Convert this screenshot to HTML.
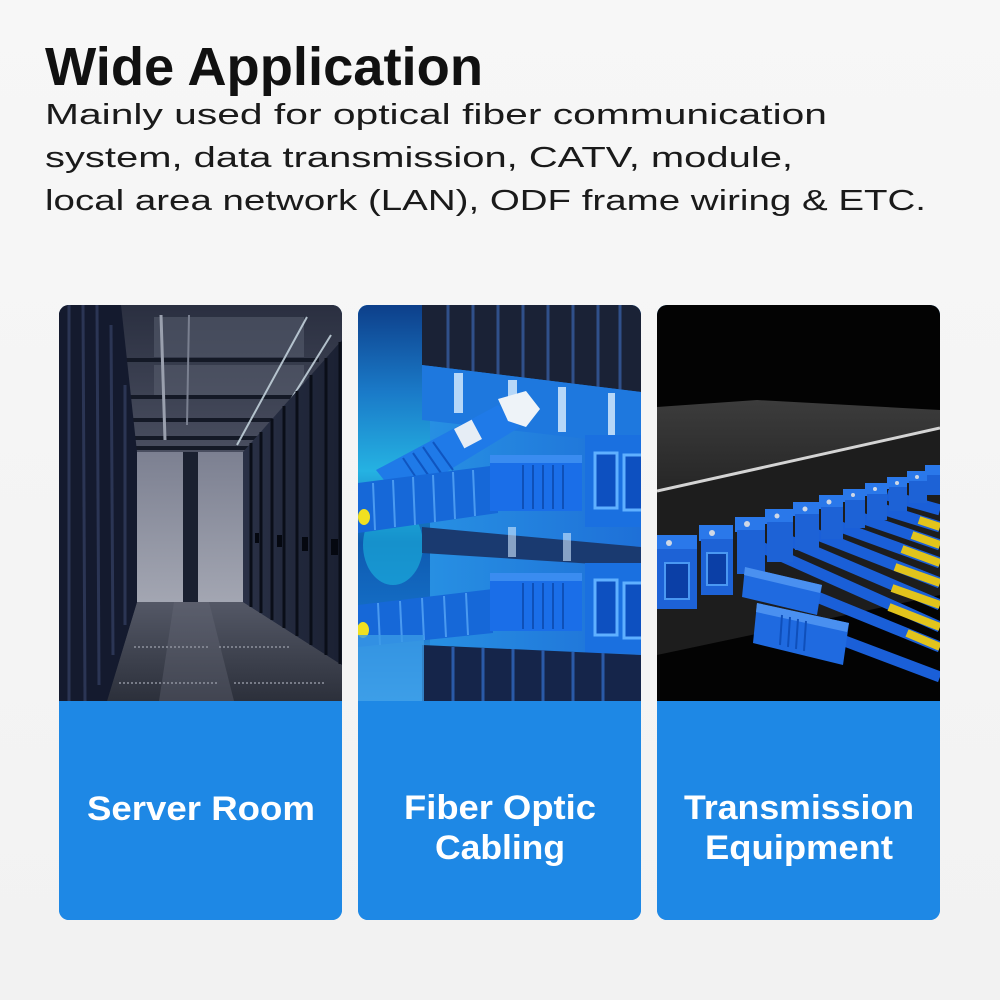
<!DOCTYPE html>
<html>
<head>
<meta charset="utf-8">
<style>
  html,body{margin:0;padding:0;background:#f4f4f4;}
  body{width:1000px;height:1000px;overflow:hidden;}
  svg{display:block;}
  text{font-family:"Liberation Sans", Arial, sans-serif;}
</style>
</head>
<body>
<svg width="1000" height="1000" viewBox="0 0 1000 1000" xmlns="http://www.w3.org/2000/svg">
  <defs>
    <linearGradient id="bg" x1="0" y1="0" x2="0" y2="1">
      <stop offset="0" stop-color="#f7f7f7"/>
      <stop offset="1" stop-color="#f2f2f2"/>
    </linearGradient>
    <clipPath id="c1"><rect x="0" y="0" width="283" height="615" rx="10"/></clipPath>
    <!-- card1 gradients -->
    <linearGradient id="ceil" x1="0" y1="0" x2="0" y2="1">
      <stop offset="0" stop-color="#2a2f40"/>
      <stop offset="1" stop-color="#4a4f60"/>
    </linearGradient>
    <linearGradient id="wall" x1="0" y1="0" x2="0" y2="1">
      <stop offset="0" stop-color="#7c8091"/>
      <stop offset="1" stop-color="#a3a6b2"/>
    </linearGradient>
    <linearGradient id="floor" x1="0" y1="0" x2="0" y2="1">
      <stop offset="0" stop-color="#545866"/>
      <stop offset="1" stop-color="#2c303b"/>
    </linearGradient>
    <linearGradient id="rrack" x1="0" y1="0" x2="1" y2="0">
      <stop offset="0" stop-color="#2a3146"/>
      <stop offset="1" stop-color="#1a2032"/>
    </linearGradient>
    <!-- card2 gradients -->
    <linearGradient id="blur" x1="0" y1="0" x2="0" y2="1">
      <stop offset="0" stop-color="#0d3f8a"/>
      <stop offset="0.22" stop-color="#1a7ac8"/>
      <stop offset="0.42" stop-color="#25b2e2"/>
      <stop offset="0.6" stop-color="#0e5ab0"/>
      <stop offset="0.8" stop-color="#1570c8"/>
      <stop offset="1" stop-color="#4ab0ee"/>
    </linearGradient>
    <linearGradient id="mid2" x1="0" y1="0" x2="1" y2="0">
      <stop offset="0" stop-color="#2a9ae6"/>
      <stop offset="1" stop-color="#1e70d8"/>
    </linearGradient>
    <!-- card3 gradients -->
    <linearGradient id="top3" x1="0" y1="0" x2="0" y2="1">
      <stop offset="0" stop-color="#3c3c3c"/>
      <stop offset="1" stop-color="#262626"/>
    </linearGradient>
  </defs>

  <rect x="0" y="0" width="1000" height="1000" fill="url(#bg)"/>

  <!-- Heading -->
  <text x="45" y="85" font-size="54" font-weight="bold" fill="#111" textLength="438" lengthAdjust="spacingAndGlyphs">Wide Application</text>
  <text x="45" y="124" font-size="29" fill="#1a1a1a" textLength="782" lengthAdjust="spacingAndGlyphs">Mainly used for optical fiber communication</text>
  <text x="45" y="167" font-size="29" fill="#1a1a1a" textLength="748" lengthAdjust="spacingAndGlyphs">system, data transmission, CATV, module,</text>
  <text x="45" y="210" font-size="29" fill="#1a1a1a" textLength="881" lengthAdjust="spacingAndGlyphs">local area network (LAN), ODF frame wiring &amp; ETC.</text>

  <!-- ========== CARD 1 : Server Room ========== -->
  <g transform="translate(59,305)">
    <g clip-path="url(#c1)">
      <rect x="0" y="0" width="283" height="615" fill="#1e88e5"/>
      <rect x="0" y="0" width="283" height="396" fill="#1a2032"/>
      <!-- ceiling -->
      <rect x="0" y="0" width="283" height="150" fill="url(#ceil)"/>
      <rect x="95" y="12" width="150" height="40" fill="#555b6c" opacity="0.6"/>
      <rect x="95" y="60" width="150" height="30" fill="#5c6272" opacity="0.5"/>
      <g stroke="#141926" stroke-width="4">
        <line x1="60" y1="55" x2="260" y2="55"/>
        <line x1="70" y1="92" x2="250" y2="92"/>
        <line x1="70" y1="115" x2="240" y2="115"/>
        <line x1="72" y1="133" x2="230" y2="133"/>
        <line x1="74" y1="143" x2="210" y2="143"/>
      </g>
      <g stroke="#c9d9e2" stroke-width="2" opacity="0.85">
        <line x1="248" y1="12" x2="178" y2="140"/>
        <line x1="272" y1="30" x2="200" y2="146"/>
        <line x1="283" y1="62" x2="215" y2="150"/>
      </g>
      <line x1="102" y1="10" x2="106" y2="135" stroke="#9aa0ae" stroke-width="3"/>
      <line x1="130" y1="10" x2="128" y2="120" stroke="#7a8090" stroke-width="2"/>
      <!-- wall -->
      <rect x="78" y="147" width="106" height="150" fill="url(#wall)"/>
      <rect x="124" y="147" width="15" height="150" fill="#1a2030"/>
      <!-- floor -->
      <polygon points="78,297 184,297 283,360 283,396 48,396" fill="url(#floor)"/>
      <polygon points="115,297 150,297 175,396 100,396" fill="#6a6e7a" opacity="0.35"/>
      <g stroke="#8a8e9a" stroke-width="2" stroke-dasharray="2,2" opacity="0.8">
        <line x1="75" y1="342" x2="150" y2="342"/>
        <line x1="160" y1="342" x2="230" y2="342"/>
        <line x1="60" y1="378" x2="160" y2="378"/>
        <line x1="175" y1="378" x2="265" y2="378"/>
      </g>
      <!-- left racks -->
      <polygon points="0,0 62,0 78,147 78,297 48,396 0,396" fill="#141a2e"/>
      <g stroke="#2b3554" stroke-width="3">
        <line x1="10" y1="0" x2="10" y2="396"/>
        <line x1="24" y1="0" x2="26" y2="396"/>
        <line x1="38" y1="0" x2="40" y2="380"/>
        <line x1="52" y1="20" x2="54" y2="350"/>
        <line x1="66" y1="80" x2="66" y2="320"/>
      </g>
      <!-- right racks -->
      <polygon points="184,147 283,35 283,360 184,297" fill="url(#rrack)"/>
      <g stroke="#0a0e18" stroke-width="3">
        <line x1="192" y1="138" x2="192" y2="302"/>
        <line x1="202" y1="127" x2="202" y2="308"/>
        <line x1="213" y1="114" x2="213" y2="315"/>
        <line x1="225" y1="101" x2="225" y2="323"/>
        <line x1="238" y1="86" x2="238" y2="331"/>
        <line x1="252" y1="70" x2="252" y2="340"/>
        <line x1="267" y1="53" x2="267" y2="350"/>
        <line x1="281" y1="37" x2="281" y2="359"/>
      </g>
      <g fill="#050810">
        <rect x="196" y="228" width="4" height="10"/>
        <rect x="218" y="230" width="5" height="12"/>
        <rect x="243" y="232" width="6" height="14"/>
        <rect x="272" y="234" width="7" height="16"/>
      </g>
      <!-- bottom blue -->
      <rect x="0" y="396" width="283" height="219" fill="#1e88e5"/>
    </g>
    <text x="142" y="820" transform="translate(0,-305)" font-size="34" font-weight="bold" fill="#fff" text-anchor="middle" textLength="228" lengthAdjust="spacingAndGlyphs">Server Room</text>
  </g>

  <!-- ========== CARD 2 : Fiber Optic Cabling ========== -->
  <g transform="translate(358,305)">
    <g clip-path="url(#c1)">
      <rect x="0" y="0" width="283" height="615" fill="#1e88e5"/>
      <rect x="0" y="0" width="283" height="396" fill="url(#mid2)"/>
      <rect x="0" y="0" width="72" height="396" fill="url(#blur)"/>
      <ellipse cx="35" cy="240" rx="30" ry="40" fill="#1ec8e8" opacity="0.5"/>
      <!-- top slats -->
      <polygon points="64,0 283,0 283,87 64,60" fill="#1a2236"/>
      <g stroke="#30508a" stroke-width="3">
        <line x1="90" y1="0" x2="90" y2="64"/>
        <line x1="115" y1="0" x2="115" y2="67"/>
        <line x1="140" y1="0" x2="140" y2="70"/>
        <line x1="165" y1="0" x2="165" y2="73"/>
        <line x1="190" y1="0" x2="190" y2="76"/>
        <line x1="215" y1="0" x2="215" y2="79"/>
        <line x1="240" y1="0" x2="240" y2="82"/>
        <line x1="262" y1="0" x2="262" y2="85"/>
      </g>
      <!-- band below slats -->
      <polygon points="64,60 283,87 283,140 64,115" fill="#1e78de"/>
      <g fill="#dcefff" opacity="0.8">
        <rect x="96" y="68" width="9" height="40"/>
        <rect x="150" y="75" width="9" height="45"/>
        <rect x="200" y="82" width="8" height="45"/>
        <rect x="250" y="88" width="7" height="42"/>
      </g>
      <!-- adapters upper right -->
      <rect x="227" y="130" width="56" height="92" fill="#1a70e0"/>
      <rect x="237" y="148" width="22" height="55" fill="#0d50c0" stroke="#5fb0ff" stroke-width="3"/>
      <rect x="266" y="150" width="22" height="55" fill="#0d50c0" stroke="#5fb0ff" stroke-width="3"/>
      <!-- middle zone -->
      <polygon points="64,222 283,242 283,262 64,248" fill="#1a3a70"/>
      <g fill="#d0e8ff" opacity="0.6">
        <rect x="150" y="222" width="8" height="30"/>
        <rect x="205" y="228" width="8" height="28"/>
      </g>
      <!-- tilted connector top -->
      <polygon points="18,165 140,100 162,122 42,195" fill="#1f7ae8"/>
      <g stroke="#0f55c0" stroke-width="2">
        <line x1="45" y1="153" x2="65" y2="183"/>
        <line x1="55" y1="148" x2="75" y2="177"/>
        <line x1="65" y1="142" x2="85" y2="171"/>
        <line x1="75" y1="137" x2="95" y2="165"/>
      </g>
      <rect x="100" y="118" width="20" height="22" fill="#e6edf5" transform="rotate(-28 110 129)"/>
      <polygon points="140,94 168,86 182,104 168,122 150,116" fill="#eef3f8"/>
      <!-- cable row 1 -->
      <polygon points="0,178 140,160 140,208 0,228" fill="#1668d8"/>
      <g stroke="#4a9af0" stroke-width="2">
        <line x1="15" y1="178" x2="17" y2="225"/>
        <line x1="35" y1="175" x2="37" y2="222"/>
        <line x1="55" y1="172" x2="57" y2="220"/>
        <line x1="75" y1="170" x2="77" y2="217"/>
        <line x1="95" y1="167" x2="97" y2="214"/>
        <line x1="115" y1="165" x2="117" y2="211"/>
      </g>
      <ellipse cx="6" cy="212" rx="6" ry="8" fill="#f0e020"/>
      <!-- horizontal connector 1 -->
      <rect x="132" y="150" width="92" height="56" fill="#1a6ee8"/>
      <rect x="132" y="150" width="92" height="8" fill="#3a8cf0"/>
      <g stroke="#0e50b8" stroke-width="2">
        <line x1="165" y1="160" x2="165" y2="204"/>
        <line x1="175" y1="160" x2="175" y2="204"/>
        <line x1="185" y1="160" x2="185" y2="204"/>
        <line x1="195" y1="160" x2="195" y2="204"/>
        <line x1="205" y1="160" x2="205" y2="204"/>
      </g>
      <!-- row 2 -->
      <polygon points="0,300 135,284 135,328 0,342" fill="#1668d8"/>
      <g stroke="#4a9af0" stroke-width="2">
        <line x1="20" y1="298" x2="22" y2="340"/>
        <line x1="42" y1="296" x2="44" y2="337"/>
        <line x1="64" y1="293" x2="66" y2="335"/>
        <line x1="86" y1="291" x2="88" y2="332"/>
        <line x1="108" y1="288" x2="110" y2="330"/>
      </g>
      <ellipse cx="5" cy="325" rx="6" ry="8" fill="#f0e020"/>
      <rect x="132" y="268" width="92" height="58" fill="#1a6ee8"/>
      <rect x="132" y="268" width="92" height="8" fill="#3a8cf0"/>
      <g stroke="#0e50b8" stroke-width="2">
        <line x1="165" y1="278" x2="165" y2="324"/>
        <line x1="175" y1="278" x2="175" y2="324"/>
        <line x1="185" y1="278" x2="185" y2="324"/>
        <line x1="195" y1="278" x2="195" y2="324"/>
        <line x1="205" y1="278" x2="205" y2="324"/>
      </g>
      <rect x="227" y="258" width="56" height="90" fill="#1a70e0"/>
      <rect x="237" y="275" width="22" height="55" fill="#0d50c0" stroke="#5fb0ff" stroke-width="3"/>
      <rect x="266" y="278" width="22" height="55" fill="#0d50c0" stroke="#5fb0ff" stroke-width="3"/>
      <!-- bottom slats -->
      <polygon points="64,340 283,350 283,396 64,396" fill="#15254a"/>
      <g stroke="#2a5aa8" stroke-width="3">
        <line x1="95" y1="342" x2="95" y2="396"/>
        <line x1="125" y1="343" x2="125" y2="396"/>
        <line x1="155" y1="344" x2="155" y2="396"/>
        <line x1="185" y1="345" x2="185" y2="396"/>
        <line x1="215" y1="347" x2="215" y2="396"/>
        <line x1="245" y1="348" x2="245" y2="396"/>
      </g>
      <rect x="0" y="330" width="66" height="66" fill="#3a9ae6" opacity="0.8"/>
      <rect x="0" y="396" width="283" height="219" fill="#1e88e5"/>
    </g>
    <text x="142" y="819" transform="translate(0,-305)" font-size="34" font-weight="bold" fill="#fff" text-anchor="middle" textLength="192" lengthAdjust="spacingAndGlyphs">Fiber Optic</text>
    <text x="142" y="859" transform="translate(0,-305)" font-size="34" font-weight="bold" fill="#fff" text-anchor="middle" textLength="130" lengthAdjust="spacingAndGlyphs">Cabling</text>
  </g>

  <!-- ========== CARD 3 : Transmission Equipment ========== -->
  <g transform="translate(657,305)">
    <g clip-path="url(#c1)">
      <rect x="0" y="0" width="283" height="615" fill="#1e88e5"/>
      <rect x="0" y="0" width="283" height="396" fill="#030303"/>
      <!-- device -->
      <polygon points="0,102 100,95 283,105 283,122 0,185" fill="url(#top3)"/>
      <polygon points="0,187 283,124 283,290 0,350" fill="#1d1d1d"/>
      <line x1="0" y1="186" x2="283" y2="123" stroke="#d4d4d4" stroke-width="3"/>
      <!-- cables -->
      <g stroke-linecap="butt">
        <g stroke="#1a5fd8" stroke-width="11">
          <line x1="230" y1="190" x2="283" y2="205"/>
          <line x1="212" y1="200" x2="283" y2="222"/>
          <line x1="190" y1="208" x2="283" y2="240"/>
          <line x1="170" y1="217" x2="283" y2="258"/>
          <line x1="148" y1="225" x2="283" y2="278"/>
          <line x1="126" y1="233" x2="283" y2="300"/>
          <line x1="104" y1="242" x2="283" y2="322"/>
          <line x1="160" y1="292" x2="283" y2="342"/>
          <line x1="185" y1="335" x2="283" y2="372"/>
        </g>
        <g stroke="#e2c41c" stroke-width="8">
          <line x1="262" y1="215" x2="283" y2="222"/>
          <line x1="255" y1="230" x2="283" y2="240"/>
          <line x1="245" y1="244" x2="283" y2="258"/>
          <line x1="238" y1="262" x2="283" y2="278"/>
          <line x1="235" y1="283" x2="283" y2="300"/>
          <line x1="232" y1="302" x2="283" y2="322"/>
          <line x1="250" y1="328" x2="283" y2="342"/>
        </g>
      </g>
      <!-- adapters row -->
      <g>
        <g fill="#2a78ea">
          <rect x="0" y="230" width="40" height="16"/>
          <rect x="42" y="220" width="34" height="16"/>
          <rect x="78" y="212" width="30" height="15"/>
          <rect x="108" y="204" width="28" height="15"/>
          <rect x="136" y="197" width="26" height="14"/>
          <rect x="162" y="190" width="24" height="14"/>
          <rect x="186" y="184" width="22" height="13"/>
          <rect x="208" y="178" width="22" height="13"/>
          <rect x="230" y="172" width="20" height="12"/>
          <rect x="250" y="166" width="20" height="12"/>
          <rect x="268" y="160" width="18" height="12"/>
        </g>
        <g fill="#1d62d6">
          <rect x="0" y="244" width="40" height="60"/>
          <rect x="44" y="234" width="32" height="56"/>
          <rect x="80" y="225" width="28" height="44"/>
          <rect x="110" y="217" width="26" height="40"/>
          <rect x="138" y="209" width="24" height="36"/>
          <rect x="164" y="202" width="22" height="32"/>
          <rect x="188" y="195" width="20" height="28"/>
          <rect x="210" y="189" width="20" height="26"/>
          <rect x="232" y="182" width="18" height="24"/>
          <rect x="252" y="176" width="18" height="22"/>
          <rect x="270" y="170" width="16" height="20"/>
        </g>
        <rect x="8" y="258" width="24" height="36" fill="#0b3fa6" stroke="#4a98f2" stroke-width="2"/>
        <rect x="50" y="248" width="20" height="32" fill="#0b3fa6" stroke="#4a98f2" stroke-width="2"/>
        <g fill="#cfd8e6">
          <circle cx="12" cy="238" r="3"/>
          <circle cx="55" cy="228" r="3"/>
          <circle cx="90" cy="219" r="3"/>
          <circle cx="120" cy="211" r="2.5"/>
          <circle cx="148" cy="204" r="2.5"/>
          <circle cx="172" cy="197" r="2.5"/>
          <circle cx="196" cy="190" r="2"/>
          <circle cx="218" cy="184" r="2"/>
          <circle cx="240" cy="178" r="2"/>
          <circle cx="260" cy="172" r="2"/>
        </g>
      </g>
      <!-- loose connectors -->
      <polygon points="88,262 165,280 160,310 85,292" fill="#1f6ae0"/>
      <polygon points="88,262 165,280 163,288 87,270" fill="#4a90f0"/>
      <polygon points="100,298 192,318 186,360 96,338" fill="#1f6ae0"/>
      <polygon points="100,298 192,318 190,327 99,307" fill="#4a90f0"/>
      <g stroke="#0f4fba" stroke-width="2">
        <line x1="125" y1="310" x2="123" y2="340"/>
        <line x1="133" y1="312" x2="131" y2="342"/>
        <line x1="141" y1="314" x2="139" y2="344"/>
        <line x1="149" y1="316" x2="147" y2="346"/>
      </g>
      <rect x="0" y="396" width="283" height="219" fill="#1e88e5"/>
    </g>
    <text x="142" y="819" transform="translate(0,-305)" font-size="34" font-weight="bold" fill="#fff" text-anchor="middle" textLength="230" lengthAdjust="spacingAndGlyphs">Transmission</text>
    <text x="142" y="859" transform="translate(0,-305)" font-size="34" font-weight="bold" fill="#fff" text-anchor="middle" textLength="188" lengthAdjust="spacingAndGlyphs">Equipment</text>
  </g>
</svg>
</body>
</html>
